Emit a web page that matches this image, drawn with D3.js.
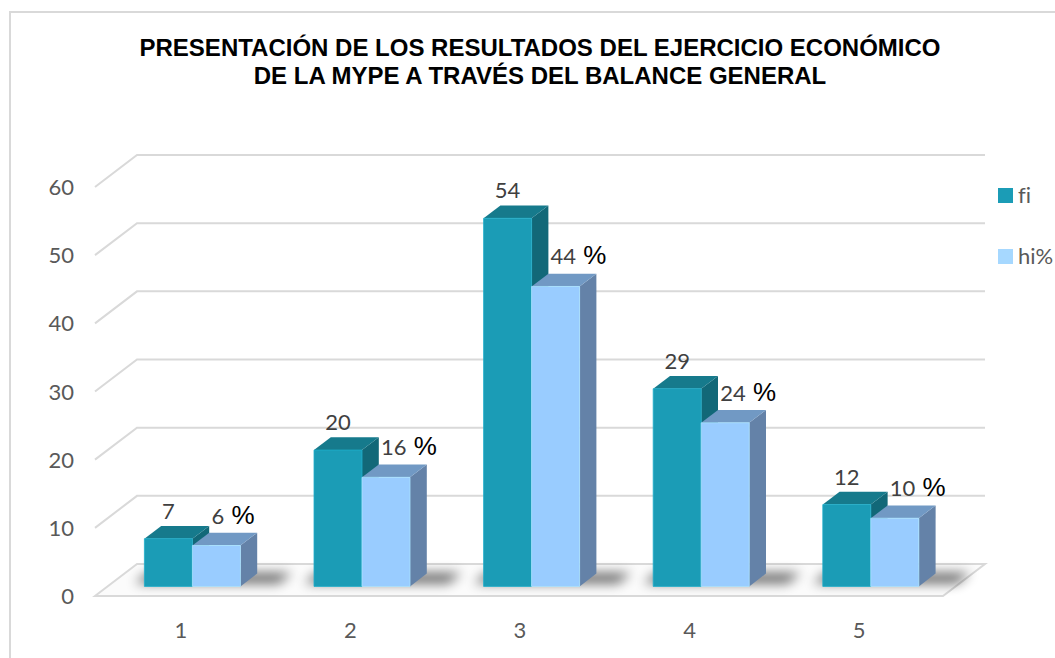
<!DOCTYPE html>
<html>
<head>
<meta charset="utf-8">
<script src="https://cdn.jsdelivr.net/npm/d3@7"></script>
<style>
  body { margin: 0; background: #fff; }
  svg { display: block; }
  text { font-variant-ligatures: none; }
</style>
</head>
<body>
<svg id="chart" width="1055" height="658"></svg>
<script>
const categories = ['1', '2', '3', '4', '5']
const fiValues = [7, 20, 54, 29, 12]
const hiValues = [6, 16, 44, 24, 10]
const yTicks = [0, 10, 20, 30, 40, 50, 60]
const seriesNames = ['fi', 'hi%']
const titleLines = ['PRESENTACIÓN DE LOS RESULTADOS DEL EJERCICIO ECONÓMICO',
                    'DE LA MYPE A TRAVÉS DEL BALANCE GENERAL']

const colors = {
    fi: { front: '#1B9CB6', top: '#167A8C', side: '#126878' },
    hi: { front: '#99CCFF', top: '#7199C4', side: '#6482A8' }
}

// depth vector of the 3d box (full depth of the plot floor)
const depth = { dx: 42, dy: -32 }
const barWidth = 48
const labelFont = 'Lato, "Open Sans", sans-serif'
const labelSize = 22

const svg = d3.select('#chart')

// outer frame
svg.append('path')
    .attr('d', 'M10,660 L10,12 L1060,12')
    .attr('fill', 'none')
    .attr('stroke', '#D9D9D9')
    .attr('stroke-width', 2)

// title
svg.append('g')
    .selectAll('text')
    .data(titleLines)
    .join('text')
    .attr('x', 540)
    .attr('y', (d, i) => 56 + i * 28)
    .attr('text-anchor', 'middle')
    .attr('font-family', '"Liberation Sans", Arial, sans-serif')
    .attr('font-weight', 'bold')
    .attr('font-size', 24)
    .attr('fill', '#000')
    .text(d => d)

const x = d3.scaleBand()
    .domain(categories)
    .range([95, 943])

const y = d3.scaleLinear()
    .domain([0, 60])
    .range([596, 187])

// point on the front plane moved back by a fraction of the depth
function pt(px, v, d) {
    return [px + d * depth.dx, y(v) + d * depth.dy]
}

function poly(points) {
    return 'M' + points.map(p => p.join(',')).join('L') + 'Z'
}

const defs = svg.append('defs')
defs.append('filter')
    .attr('id', 'shadowBlur')
    .attr('x', '-50%').attr('y', '-200%')
    .attr('width', '200%').attr('height', '500%')
    .append('feGaussianBlur')
    .attr('stdDeviation', 6)

// floor
const [x0, x1] = x.range()
svg.append('path')
    .attr('d', poly([pt(x0, 0, 0), pt(x1, 0, 0), pt(x1, 0, 1), pt(x0, 0, 1)]))
    .attr('fill', '#FBFBFB')
    .attr('stroke', '#D9D9D9')
    .attr('stroke-width', 2)

// gridlines: left wall diagonal + back wall line
svg.append('g')
    .selectAll('path')
    .data(yTicks.filter(t => t > 0))
    .join('path')
    .attr('d', t => 'M' + pt(x0, t, 0).join(',') + 'L' + pt(x0, t, 1).join(',') + 'L' + pt(x1, t, 1).join(','))
    .attr('fill', 'none')
    .attr('stroke', '#D9D9D9')
    .attr('stroke-width', 2)

// y axis labels
svg.append('g')
    .selectAll('text')
    .data(yTicks)
    .join('text')
    .attr('x', 74)
    .attr('y', t => y(t) + 8)
    .attr('text-anchor', 'end')
    .attr('font-family', labelFont)
    .attr('font-size', labelSize)
    .attr('fill', '#595959')
    .text(t => t)

// x axis labels
svg.append('g')
    .selectAll('text')
    .data(categories)
    .join('text')
    .attr('x', d => x(d) + x.bandwidth() / 2 + 1)
    .attr('y', 638)
    .attr('text-anchor', 'middle')
    .attr('font-family', labelFont)
    .attr('font-size', labelSize)
    .attr('fill', '#595959')
    .text(d => d)

const dFront = 0.3
const dBack = 0.7

// shadows on the floor
svg.append('g')
    .selectAll('path')
    .data(categories)
    .join('path')
    .attr('d', c => {
        const cx = x(c) + x.bandwidth() / 2
        return poly([pt(cx - barWidth - 14, 0, dFront + 0.1), pt(cx + barWidth + 34, 0, dFront + 0.1),
                     pt(cx + barWidth + 34, 0, dBack + 0.02), pt(cx - barWidth - 14, 0, dBack + 0.02)])
    })
    .attr('fill', '#000')
    .attr('opacity', 0.6)
    .attr('filter', 'url(#shadowBlur)')

function drawBox(g, left, value, col) {
    const right = left + barWidth
    const fb = pt(left, 0, dFront), fr = pt(right, 0, dFront)
    const ft = pt(left, value, dFront), frt = pt(right, value, dFront)
    const bt = pt(left, value, dBack), brt = pt(right, value, dBack)
    const br = pt(right, 0, dBack)
    // side
    g.append('path').attr('d', poly([fr, frt, brt, br])).attr('fill', col.side)
    // top
    g.append('path').attr('d', poly([ft, frt, brt, bt])).attr('fill', col.top)
    // front
    g.append('path').attr('d', poly([fb, fr, frt, ft]))
        .attr('fill', col.front)
        .attr('stroke', d3.color(col.front).brighter(0.3))
        .attr('stroke-width', 0.8)
}

const bars = svg.append('g')
categories.forEach((c, i) => {
    const cx = x(c) + x.bandwidth() / 2
    const g = bars.append('g')
    drawBox(g, cx - barWidth, fiValues[i], colors.fi)
    drawBox(g, cx, hiValues[i], colors.hi)
})

// data labels fi
svg.append('g')
    .selectAll('text')
    .data(categories)
    .join('text')
    .attr('x', (c, i) => pt(x(c) + x.bandwidth() / 2 - barWidth / 2, fiValues[i], dFront)[0])
    .attr('y', (c, i) => pt(0, fiValues[i], dFront)[1] - 20)
    .attr('text-anchor', 'middle')
    .attr('font-family', labelFont)
    .attr('font-size', labelSize)
    .attr('fill', '#404040')
    .text((c, i) => fiValues[i])

// data labels hi%
const hiLabels = svg.append('g')
    .selectAll('text')
    .data(categories)
    .join('text')
    .attr('x', (c, i) => pt(x(c) + x.bandwidth() / 2 + barWidth / 2, hiValues[i], dFront)[0] - 5)
    .attr('y', (c, i) => pt(0, hiValues[i], dFront)[1] - 22)
    .attr('text-anchor', 'start')
    .attr('font-family', labelFont)
    .attr('font-size', labelSize)
    .attr('fill', '#404040')
hiLabels.append('tspan').text((c, i) => hiValues[i])
hiLabels.append('tspan')
    .attr('font-family', '"Liberation Sans", Arial, sans-serif')
    .attr('font-size', 26)
    .attr('fill', '#000')
    .text(' %')

// legend
const legend = svg.append('g')
    .selectAll('g')
    .data(seriesNames)
    .join('g')
    .attr('transform', (d, i) => `translate(998,${188 + i * 61})`)
legend.append('rect')
    .attr('width', 15)
    .attr('height', 15)
    .attr('fill', (d, i) => i === 0 ? colors.fi.front : '#A6D8FF')
legend.append('text')
    .attr('x', 20)
    .attr('y', 15)
    .attr('font-family', labelFont)
    .attr('font-size', labelSize)
    .attr('fill', '#595959')
    .text(d => d)
</script>
</body>
</html>
